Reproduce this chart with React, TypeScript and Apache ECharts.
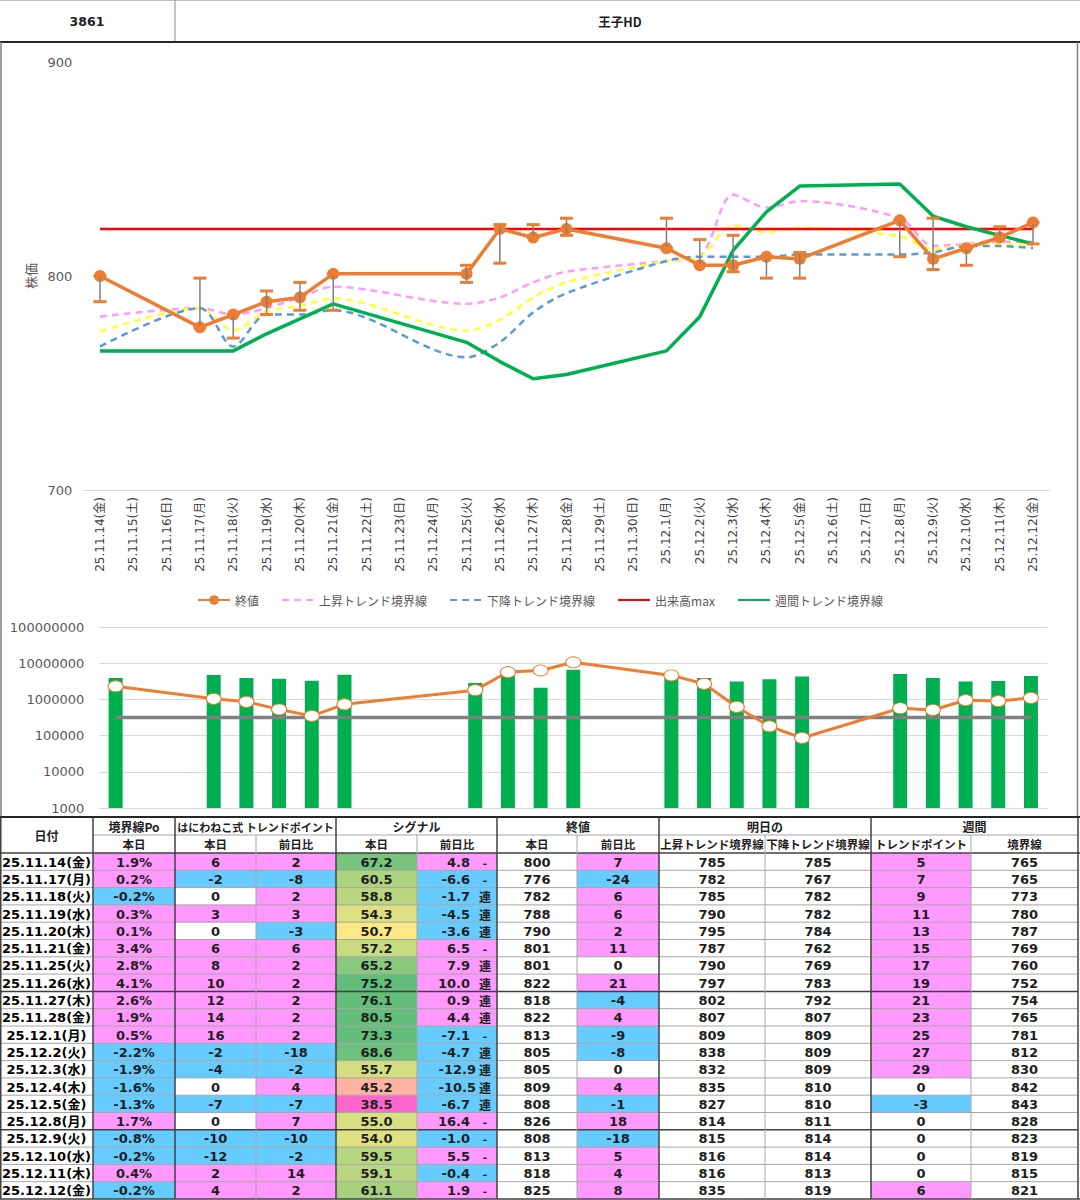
import React, { useEffect, useRef } from "react";
import * as echarts from "echarts";

// ---------- data ----------
const axisDates = [
  "25.11.14(金)", "25.11.15(土)", "25.11.16(日)", "25.11.17(月)", "25.11.18(火)", "25.11.19(水)",
  "25.11.20(木)", "25.11.21(金)", "25.11.22(土)", "25.11.23(日)", "25.11.24(月)", "25.11.25(火)",
  "25.11.26(水)", "25.11.27(木)", "25.11.28(金)", "25.11.29(土)", "25.11.30(日)", "25.12.1(月)",
  "25.12.2(火)", "25.12.3(水)", "25.12.4(木)", "25.12.5(金)", "25.12.6(土)", "25.12.7(日)",
  "25.12.8(月)", "25.12.9(火)", "25.12.10(水)", "25.12.11(木)", "25.12.12(金)",
];

const tableDates = [
  "25.11.14(金)", "25.11.17(月)", "25.11.18(火)", "25.11.19(水)", "25.11.20(木)", "25.11.21(金)",
  "25.11.25(火)", "25.11.26(水)", "25.11.27(木)", "25.11.28(金)", "25.12.1(月)", "25.12.2(火)",
  "25.12.3(水)", "25.12.4(木)", "25.12.5(金)", "25.12.8(月)", "25.12.9(火)", "25.12.10(水)",
  "25.12.11(木)", "25.12.12(金)",
];

// chart series (per trading day)
const closeVals = [800, 776, 782, 788, 790, 801, 801, 822, 818, 822, 813, 805, 805, 809, 808, 826, 808, 813, 818, 825];
const highVals = [800, 799, 782, 793, 797, 801, 805, 824, 824, 827, 827, 817, 819, 809, 811, 826, 827, 813, 823, 825];
const lowVals = [788, 776, 771, 782, 784, 784, 797, 806, 818, 819, 813, 805, 802, 799, 799, 809, 803, 805, 818, 815];
const upperLine = [781, 785, 782, 785, 790, 795, 787, 790, 797, 802, 807, 809, 838, 832, 835, 827, 814, 815, 816, 816];
const lowerLine = [767, 785, 767, 782, 782, 784, 762, 769, 783, 792, 807, 809, 809, 809, 810, 810, 811, 814, 814, 813];
const midLine = [774, 785, 774.5, 783.5, 786, 789.5, 774.5, 779.5, 790, 797, 807, 809, 823.5, 820.5, 822.5, 818.5, 812.5, 814.5, 815, 814.5];
const weeklyLine = [765, 765, 765, 773, 780, 787, 769, 760, 752, 754, 765, 781, 812, 830, 842, 843, 828, 823, 819, 815];
const volumeMax = 822;

const volumeBars = [3.9e6, 4.7e6, 3.9e6, 3.7e6, 3.3e6, 4.8e6, 2.85e6, 4.5e6, 2.1e6, 6.6e6, 4.3e6, 3.9e6, 3.1e6, 3.6e6, 4.3e6, 5.0e6, 3.9e6, 3.1e6, 3.2e6, 4.4e6];
const volumeLine = [2.3e6, 1.04e6, 8.6e5, 5.3e5, 3.5e5, 7.3e5, 1.8e6, 5.7e6, 6.3e6, 1.06e7, 4.6e6, 2.7e6, 6.2e5, 1.8e5, 8.6e4, 5.7e5, 5.1e5, 9.5e5, 9.0e5, 1.1e6];
const volumeBase = 316000;

const priceTicks = [700, 800, 900];
const volumeTicks = [1000, 10000, 100000, 1000000, 10000000, 100000000];

// table
const boundaryPo = [1.9, 0.2, -0.2, 0.3, 0.1, 3.4, 2.8, 4.1, 2.6, 1.9, 0.5, -2.2, -1.9, -1.6, -1.3, 1.7, -0.8, -0.2, 0.4, -0.2];
const trendPoint = [6, -2, 0, 3, 0, 6, 8, 10, 12, 14, 16, -2, -4, 0, -7, 0, -10, -12, 2, 4];
const trendPointDiff = [2, -8, 2, 3, -3, 6, 2, 2, 2, 2, 2, -18, -2, 4, -7, 7, -10, -2, 14, 2];
const signal = [67.2, 60.5, 58.8, 54.3, 50.7, 57.2, 65.2, 75.2, 76.1, 80.5, 73.3, 68.6, 55.7, 45.2, 38.5, 55.0, 54.0, 59.5, 59.1, 61.1];
const signalDiff = [4.8, -6.6, -1.7, -4.5, -3.6, 6.5, 7.9, 10.0, 0.9, 4.4, -7.1, -4.7, -12.9, -10.5, -6.7, 16.4, -1.0, 5.5, -0.4, 1.9];
const signalMark = ["-", "-", "連", "連", "連", "-", "連", "連", "連", "連", "-", "連", "連", "連", "連", "-", "-", "-", "-", "-"];
const closeDiff = [7, -24, 6, 6, 2, 11, 0, 21, -4, 4, -9, -8, 0, 4, -1, 18, -18, 5, 4, 8];
const nextUpper = [785, 782, 785, 790, 795, 787, 790, 797, 802, 807, 809, 838, 832, 835, 827, 814, 815, 816, 816, 835];
const nextLower = [785, 767, 782, 782, 784, 762, 769, 783, 792, 807, 809, 809, 809, 810, 810, 811, 814, 814, 813, 819];
const weeklyTP = [5, 7, 9, 11, 13, 15, 17, 19, 21, 23, 25, 27, 29, 0, -3, 0, 0, 0, 0, 6];
const weeklyBoundary = [765, 765, 773, 780, 787, 769, 760, 752, 754, 765, 781, 812, 830, 842, 843, 828, 823, 819, 815, 821];

// ---------- helpers ----------
const FONT = "'DejaVu Sans', 'Noto Sans CJK JP', sans-serif";
const JP = "'Noto Sans CJK JP', 'DejaVu Sans', sans-serif";
const PINK = "#FF99FF";
const BLUE = "#66CCFF";

const idxOf = tableDates.map((d) => axisDates.indexOf(d));
function spread(vals: number[]) {
  const arr: (number | null)[] = axisDates.map(() => null);
  vals.forEach((v, i) => (arr[idxOf[i]] = v));
  return arr;
}
function signColor(v: number) {
  return v > 0 ? PINK : v < 0 ? BLUE : "#FFFFFF";
}
function mix(a: number[], b: number[], t: number) {
  const c = a.map((x, i) => Math.round(x + (b[i] - x) * t));
  return `rgb(${c[0]},${c[1]},${c[2]})`;
}
function signalColor(v: number) {
  const lo = [255, 102, 204], mid = [255, 235, 132], hi = [99, 190, 123];
  const mn = Math.min(...signal);
  if (v <= 50) return mix(lo, mid, Math.max(0, Math.min(1, (v - mn) / (50 - mn))));
  return mix(mid, hi, Math.max(0, Math.min(1, (v - 50) / 20)));
}

function txt(x: number, y: number, text: string, opts: any = {}) {
  const align = opts.align || "center";
  return {
    type: "text",
    silent: true,
    z: 10,
    x,
    y,
    style: {
      text,
      fill: opts.color || "#1e1e1e",
      fontSize: opts.size || 13,
      fontWeight: opts.weight || "bold",
      fontFamily: opts.family || FONT,
      align,
      textAlign: align,
      verticalAlign: "middle",
      textVerticalAlign: "middle",
    },
  };
}
function rect(x: number, y: number, w: number, h: number, fill: string) {
  return { type: "rect", silent: true, z: 5, shape: { x, y, width: w, height: h }, style: { fill } };
}
function line(x1: number, y1: number, x2: number, y2: number, stroke: string, w = 1) {
  return { type: "line", silent: true, z: 8, shape: { x1, y1, x2, y2 }, style: { stroke, lineWidth: w } };
}

function buildGraphics() {
  const els: any[] = [];
  const LIGHT = "#a6a6a6";
  const DARK = "#404040";
  // header
  els.push(line(0, 0.5, 1080, 0.5, "#bfbfbf", 1));
  els.push(line(175, 0, 175, 42, "#8c8c8c", 1));
  els.push(line(0, 42, 1080, 42, "#262626", 2));
  els.push(txt(87, 21, "3861", { size: 12.5 }));
  els.push(txt(620, 21, "王子HD", { size: 12.5, family: JP }));
  // frame of chart area
  els.push(line(1, 42, 1, 817, "#7f7f7f", 1.5));
  els.push(line(1077.5, 42, 1077.5, 817, "#7f7f7f", 1.5));

  // table
  const colX = [0, 93, 175, 256, 336, 417, 497, 577, 659, 765, 871, 971, 1078];
  const tTop = 817, h1 = 835, h2 = 853, rowH = 17.3;
  const groupCols = [93, 175, 336, 497, 659, 871];
  els.push(txt(46.5, (tTop + h2) / 2, "日付", { size: 12, family: JP }));
  const groups = [
    [93, 175, "境界線Po", 12],
    [175, 336, "はにわねこ式 トレンドポイント", 11],
    [336, 497, "シグナル", 12],
    [497, 659, "終値", 12],
    [659, 871, "明日の", 12],
    [871, 1078, "週間", 12],
  ];
  groups.forEach((g: any) => els.push(txt((g[0] + g[1]) / 2, (tTop + h1) / 2 + 0.5, g[2], { size: g[3], family: JP })));
  const subs = ["本日", "本日", "前日比", "本日", "前日比", "本日", "前日比", "上昇トレンド境界線", "下降トレンド境界線", "トレンドポイント", "境界線"];
  subs.forEach((s, i) => els.push(txt((colX[i + 1] + colX[i + 2]) / 2, (h1 + h2) / 2, s, { size: 11.5, family: JP })));

  tableDates.forEach((d, r) => {
    const y0 = h2 + r * rowH;
    const cy = y0 + rowH / 2 + 0.5;
    const fills = [
      "#FFFFFF",
      signColor(boundaryPo[r]),
      signColor(trendPoint[r]),
      signColor(trendPointDiff[r]),
      signalColor(signal[r]),
      signColor(signalDiff[r]),
      "#FFFFFF",
      signColor(closeDiff[r]),
      "#FFFFFF",
      "#FFFFFF",
      signColor(weeklyTP[r]),
      "#FFFFFF",
    ];
    fills.forEach((f, c) => {
      if (f !== "#FFFFFF") els.push(rect(colX[c], y0, colX[c + 1] - colX[c], rowH, f));
    });
    const cx = (c: number) => (colX[c] + colX[c + 1]) / 2;
    els.push(txt(cx(0), cy, d, { size: 13, color: "#000" }));
    els.push(txt(cx(1), cy, `${boundaryPo[r].toFixed(1)}%`));
    els.push(txt(cx(2), cy, String(trendPoint[r])));
    els.push(txt(cx(3), cy, String(trendPointDiff[r])));
    els.push(txt(cx(4), cy, signal[r].toFixed(1)));
    const sd = signalDiff[r].toFixed(1);
    els.push(txt(sd.length >= 5 ? 476 : 470, cy, sd, { align: "right" }));
    els.push(txt(485, cy, signalMark[r], { size: signalMark[r] === "-" ? 13 : 12, family: JP }));
    els.push(txt(cx(6), cy, String(closeVals[r])));
    els.push(txt(cx(7), cy, String(closeDiff[r])));
    els.push(txt(cx(8), cy, String(nextUpper[r])));
    els.push(txt(cx(9), cy, String(nextLower[r])));
    els.push(txt(cx(10), cy, String(weeklyTP[r])));
    els.push(txt(cx(11), cy, String(weeklyBoundary[r])));
  });
  const tBottom = h2 + tableDates.length * rowH;

  els.push(line(0, tTop, 1080, tTop, "#262626", 2));
  els.push(line(93, h1, 1078, h1, LIGHT, 1));
  els.push(line(0, h2, 1080, h2, DARK, 1.5));
  for (let r = 1; r < tableDates.length; r++) {
    const y = h2 + r * rowH;
    const thick = r === 8 || r === 16;
    els.push(line(0, y, 1078, y, thick ? DARK : LIGHT, thick ? 1.5 : 1));
  }
  els.push(line(0, tBottom, 1080, tBottom, DARK, 1.5));
  colX.forEach((x, i) => {
    if (i === 0 || i === colX.length - 1) {
      els.push(line(i === 0 ? 0.75 : x, tTop, i === 0 ? 0.75 : x, tBottom, DARK, 1.5));
      return;
    }
    const isGroup = groupCols.includes(x);
    els.push(line(x, isGroup ? tTop : h1, x, tBottom, isGroup ? DARK : LIGHT, isGroup ? 1.5 : 1));
  });
  return els;
}

function buildOption(): any {
  const dash = [7, 5];
  const hideSym = { itemStyle: { opacity: 0 } };
  return {
    animation: false,
    backgroundColor: "#ffffff",
    textStyle: { fontFamily: FONT },
    legend: {
      top: 589,
      left: "center",
      itemWidth: 32,
      itemHeight: 12,
      itemGap: 22,
      data: [
        { name: "終値" },
        { name: "上昇トレンド境界線", ...hideSym },
        { name: "下降トレンド境界線", ...hideSym },
        { name: "出来高max", ...hideSym },
        { name: "週間トレンド境界線", ...hideSym },
      ],
      textStyle: { fontSize: 12, color: "#595959", fontFamily: JP },
    },
    grid: [
      { left: 83.3, top: 62, width: 966.4, height: 428 },
      { left: 99.3, top: 627, width: 948, height: 181 },
    ],
    xAxis: [
      {
        type: "category",
        gridIndex: 0,
        data: axisDates,
        boundaryGap: true,
        axisLine: { show: true, lineStyle: { color: "#d9d9d9", width: 1 } },
        axisTick: { show: false },
        axisLabel: { rotate: 90, interval: 0, fontSize: 12, color: "#404040", margin: 7, fontFamily: FONT },
      },
      {
        type: "category",
        gridIndex: 1,
        data: axisDates,
        boundaryGap: true,
        axisLine: { show: false },
        axisTick: { show: false },
        axisLabel: { show: false },
      },
    ],
    yAxis: [
      {
        type: "value",
        gridIndex: 0,
        min: priceTicks[0],
        max: priceTicks[priceTicks.length - 1],
        interval: 100,
        axisLine: { show: false },
        axisTick: { show: false },
        splitLine: { show: false },
        axisLabel: { fontSize: 13, color: "#595959", margin: 11 },
        name: "株価",
        nameLocation: "middle",
        nameRotate: 90,
        nameGap: 46,
        nameTextStyle: { fontSize: 13, color: "#595959", fontFamily: JP },
      },
      {
        type: "log",
        logBase: 10,
        gridIndex: 1,
        min: volumeTicks[0],
        max: volumeTicks[volumeTicks.length - 1],
        axisLine: { show: false },
        axisTick: { show: false },
        splitLine: { show: true, lineStyle: { color: "#d9d9d9", width: 1 } },
        axisLabel: {
          fontSize: 13,
          color: "#595959",
          margin: 15,
          formatter: (v: number) => {
            const m = volumeTicks.find((t) => Math.abs(t - v) / t < 1e-6);
            return m !== undefined ? String(m) : "";
          },
        },
      },
    ],
    series: [
      {
        name: "上昇トレンド境界線",
        type: "line",
        xAxisIndex: 0,
        yAxisIndex: 0,
        data: spread(upperLine),
        connectNulls: true,
        smooth: 0.3,
        symbol: "none",
        color: "#FF99FF",
        lineStyle: { color: "#FF99FF", width: 2.5, type: dash },
        z: 2,
      },
      {
        name: "中間線",
        type: "line",
        xAxisIndex: 0,
        yAxisIndex: 0,
        data: spread(midLine),
        connectNulls: true,
        smooth: 0.3,
        symbol: "none",
        color: "#FFFF33",
        lineStyle: { color: "#FFFF33", width: 2.5, type: dash },
        z: 2,
      },
      {
        name: "下降トレンド境界線",
        type: "line",
        xAxisIndex: 0,
        yAxisIndex: 0,
        data: spread(lowerLine),
        connectNulls: true,
        smooth: 0.3,
        symbol: "none",
        color: "#5B9BD5",
        lineStyle: { color: "#5B9BD5", width: 2.5, type: dash },
        z: 2,
      },
      {
        name: "出来高max",
        type: "line",
        xAxisIndex: 0,
        yAxisIndex: 0,
        data: axisDates.map(() => volumeMax),
        symbol: "none",
        color: "#FF0000",
        lineStyle: { color: "#FF0000", width: 2.5 },
        z: 3,
      },
      {
        name: "週間トレンド境界線",
        type: "line",
        xAxisIndex: 0,
        yAxisIndex: 0,
        data: spread(weeklyLine),
        connectNulls: true,
        symbol: "none",
        color: "#00B050",
        lineStyle: { color: "#00B050", width: 3.5 },
        z: 3,
      },
      {
        name: "終値",
        type: "line",
        xAxisIndex: 0,
        yAxisIndex: 0,
        data: spread(closeVals),
        connectNulls: true,
        symbol: "circle",
        symbolSize: 12,
        color: "#ED7D31",
        itemStyle: { color: "#ED7D31" },
        lineStyle: { color: "#ED7D31", width: 3.5 },
        z: 4,
      },
      {
        name: "誤差",
        type: "custom",
        xAxisIndex: 0,
        yAxisIndex: 0,
        clip: false,
        z: 5,
        encode: { x: 0, y: [1, 2] },
        data: tableDates.map((d, i) => [idxOf[i], lowVals[i], highVals[i]]),
        renderItem: (params: any, api: any) => {
          const x = api.value(0);
          const pLo = api.coord([x, api.value(1)]);
          const pHi = api.coord([x, api.value(2)]);
          const w = 6.5;
          return {
            type: "group",
            children: [
              { type: "line", shape: { x1: pLo[0], y1: pLo[1], x2: pHi[0], y2: pHi[1] }, style: { stroke: "#7F7F7F", lineWidth: 1.5 } },
              { type: "line", shape: { x1: pHi[0] - w, y1: pHi[1], x2: pHi[0] + w, y2: pHi[1] }, style: { stroke: "#ED7D31", lineWidth: 3 } },
              { type: "line", shape: { x1: pLo[0] - w, y1: pLo[1], x2: pLo[0] + w, y2: pLo[1] }, style: { stroke: "#ED7D31", lineWidth: 3 } },
            ],
          };
        },
      },
      {
        name: "出来高",
        type: "bar",
        xAxisIndex: 1,
        yAxisIndex: 1,
        data: spread(volumeBars),
        barWidth: 14,
        clip: true,
        itemStyle: { color: "#00B050" },
        z: 2,
      },
      {
        name: "基準",
        type: "line",
        xAxisIndex: 1,
        yAxisIndex: 1,
        data: axisDates.map(() => volumeBase),
        symbol: "none",
        lineStyle: { color: "#808080", width: 3.5 },
        z: 3,
      },
      {
        name: "出来高推移",
        type: "line",
        xAxisIndex: 1,
        yAxisIndex: 1,
        data: spread(volumeLine),
        connectNulls: true,
        symbol: "circle",
        symbolSize: [15, 11],
        itemStyle: { color: "#FFFFFF", borderColor: "#ED7D31", borderWidth: 1 },
        lineStyle: { color: "#ED7D31", width: 3 },
        z: 4,
      },
    ],
    graphic: { elements: buildGraphics() },
  };
}

export default function App() {
  const ref = useRef<HTMLDivElement>(null);
  useEffect(() => {
    if (!ref.current) return;
    const chart = echarts.init(ref.current, null, { renderer: "svg", width: 1080, height: 1200 });
    chart.setOption(buildOption());
    return () => chart.dispose();
  }, []);
  return (
    <div
      ref={ref}
      style={{ position: "absolute", left: 0, top: 0, width: 1080, height: 1200, background: "#ffffff" }}
    />
  );
}
